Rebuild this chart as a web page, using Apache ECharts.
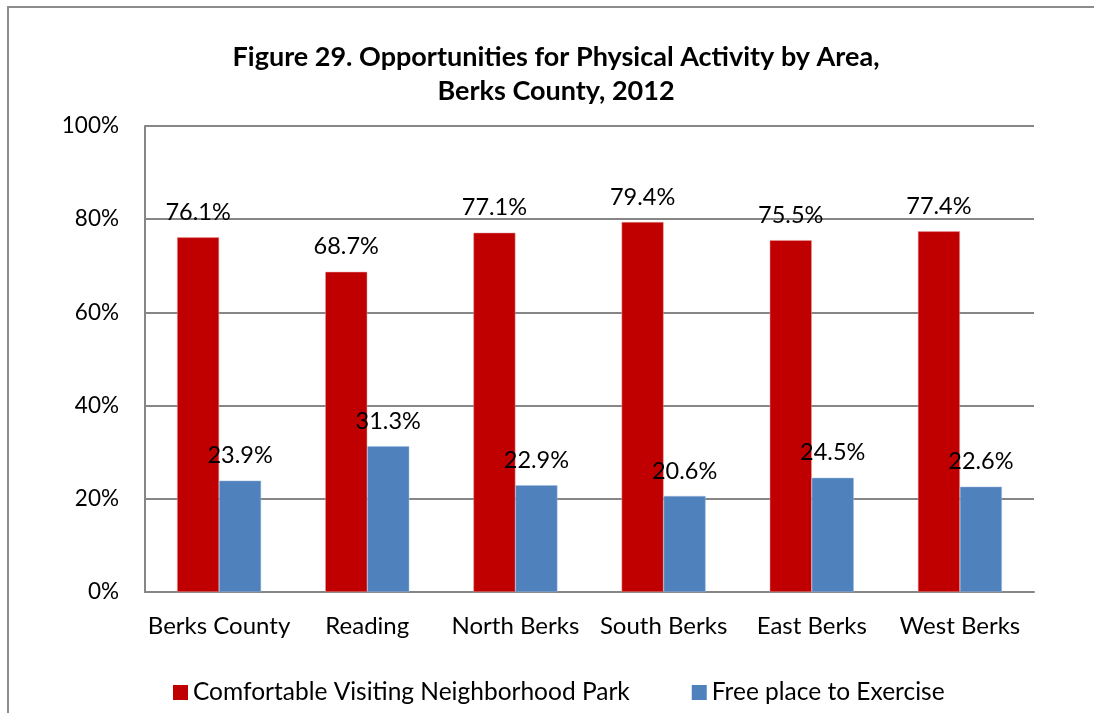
<!DOCTYPE html>
<html>
<head>
<meta charset="utf-8">
<script src="https://cdn.jsdelivr.net/npm/echarts@6/dist/echarts.min.js"></script>
<style>
  html, body { margin: 0; padding: 0; background: #fff; }
  #frame { position: absolute; left: 7px; top: 6px; width: 1200px; height: 800px; border: 2px solid #8c8c8c; box-sizing: border-box; }
  #chart { position: absolute; left: 0; top: 0; width: 1094px; height: 713px; }
</style>
</head>
<body>
<div id="frame"></div>
<div id="chart"></div>
<script>
// Areas of Berks County
const areas = ['Berks County', 'Reading', 'North Berks', 'South Berks', 'East Berks', 'West Berks'];
// Percent of respondents
const parkComfort = [76.1, 68.7, 77.1, 79.4, 75.5, 77.4];
const freeExercise = [23.9, 31.3, 22.9, 20.6, 24.5, 22.6];
const seriesNames = ['Comfortable Visiting Neighborhood Park', 'Free place to Exercise'];
const titleLines = ['Figure 29. Opportunities for Physical Activity by Area,', 'Berks County, 2012'];

const FONT = 'Lato, "Liberation Sans", sans-serif';
const chart = echarts.init(document.getElementById('chart'), null, { renderer: 'canvas' });

const labelStyle = {
  show: true,
  position: 'top',
  distance: 13,
  fontFamily: FONT,
  fontSize: 23.5,
  color: '#000',
  formatter: p => p.value.toFixed(1) + '%'
};

chart.setOption({
  backgroundColor: 'transparent',
  animation: false,
  title: {
    text: titleLines.join('\n'),
    left: 551,
    top: 35,
    textAlign: 'center',
    textStyle: { fontFamily: FONT, fontWeight: 'bold', fontSize: 27, lineHeight: 34, color: '#000' }
  },
  legend: {
    bottom: 3,
    left: 168,
    itemWidth: 15,
    itemHeight: 15,
    itemGap: 62,
    icon: 'rect',
    itemStyle: { borderWidth: 0 },
    textStyle: { fontFamily: FONT, fontSize: 24.5, color: '#000' },
    data: seriesNames
  },
  grid: { left: 145, right: 60, top: 126, bottom: 121, containLabel: false },
  xAxis: {
    type: 'category',
    data: areas,
    axisLine: { show: true, lineStyle: { color: '#868686', width: 2 } },
    axisTick: { show: false },
    axisLabel: { interval: 0, fontFamily: FONT, fontSize: 24, color: '#000', margin: 22 }
  },
  yAxis: {
    type: 'value',
    min: 0,
    max: 100,
    interval: 20,
    axisLine: { show: true, lineStyle: { color: '#868686', width: 2 } },
    axisTick: { show: false },
    splitLine: { lineStyle: { color: '#868686', width: 2 } },
    axisLabel: { fontFamily: FONT, fontSize: 22.5, color: '#000', margin: 26, formatter: '{value}%' }
  },
  series: [
    {
      name: seriesNames[0],
      type: 'bar',
      data: parkComfort,
      barWidth: 42,
      barGap: '0%',
      itemStyle: { color: '#C00000', borderColor: '#e8a0a0', borderWidth: 0.5 },
      label: labelStyle
    },
    {
      name: seriesNames[1],
      type: 'bar',
      data: freeExercise,
      barWidth: 42,
      barGap: '0%',
      itemStyle: { color: '#4F81BD', borderColor: '#9fbde0', borderWidth: 0.5 },
      label: labelStyle
    }
  ]
});
</script>
</body>
</html>
